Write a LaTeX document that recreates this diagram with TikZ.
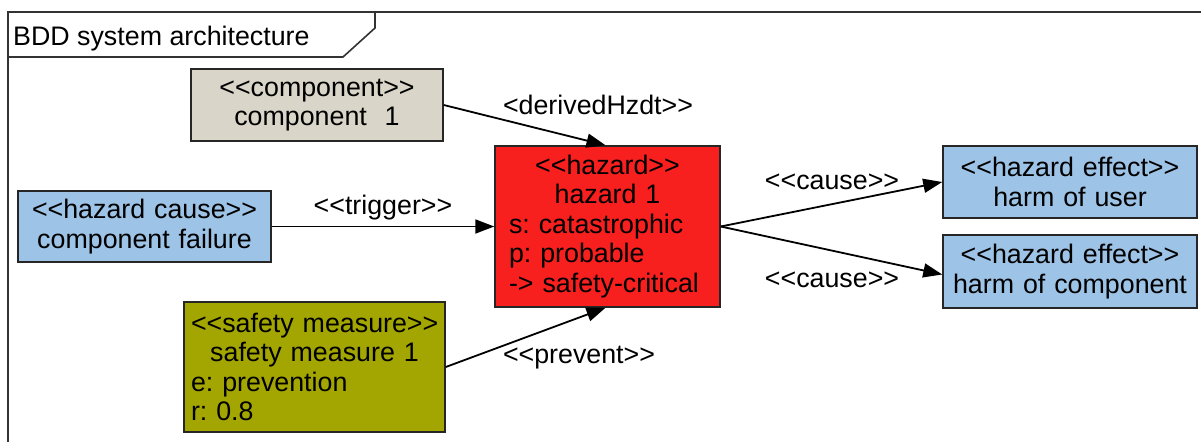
\documentclass[tikz,border=0pt]{standalone}
\usepackage{fontspec}
\setmainfont{Liberation Sans}
\usetikzlibrary{arrows.meta,positioning}
\setlength{\parindent}{0pt}
\frenchspacing
\newcommand\LL{<\kern0pt<}
\newcommand\GG{>\kern0pt>}
\definecolor{compfill}{HTML}{D9D6C9}
\definecolor{bluefill}{HTML}{9DC3E6}
\definecolor{redfill}{HTML}{F81F1F}
\definecolor{olivefill}{HTML}{A3A600}
\definecolor{framegray}{HTML}{333333}
\tikzset{
  txt/.style={font=\fontsize{26.8}{29.5}\selectfont},
  umlbox/.style={txt, draw=black!85, line width=1.5pt, rectangle, inner xsep=9pt, inner ysep=0pt},
  lbl/.style={txt, inner sep=0pt},
  rel/.style={line width=1.8pt, -{Triangle[length=19pt,width=14pt]}},
}
\begin{document}
\begin{tikzpicture}[x=1pt,y=-1pt]
\useasboundingbox (0,0) rectangle (1201,442);
% frame
\draw[framegray, line width=2pt] (8,442) -- (8,12) -- (1201,12);
\draw[framegray, line width=1.6pt] (8,57) -- (343,57) -- (375,28) -- (375,12);
\node[txt, inner sep=0pt, anchor=base west] (title) at (13,45) {BDD system architecture};
% boxes
\node[umlbox, fill=compfill, text width=234pt, align=center, minimum height=72pt] (comp) at (317,105) {\LL component\GG\\component~~1};
\node[umlbox, fill=bluefill, text width=235pt, align=center, minimum height=71pt] (cause) at (144.5,226.5) {\LL hazard cause\GG\\component failure};
\node[umlbox, fill=redfill, inner xsep=14pt, text width=197pt, minimum height=161pt] (haz) at (607.5,226.5)
  {{\centering \LL hazard\GG\\hazard 1\par}\raggedright s: catastrophic\\p: probable\\-> safety-critical};
\node[umlbox, fill=olivefill, inner xsep=7pt, text width=247pt, minimum height=130pt] (safety) at (314.5,367)
  {\raggedright \mbox{\LL safety measure\GG}\par{\centering safety measure 1\par}e: prevention\\r: 0.8};
\node[umlbox, fill=bluefill, text width=236pt, align=center, minimum height=72pt] (eff1) at (1070,182) {\LL hazard effect\GG\\harm of user};
\node[umlbox, fill=bluefill, text width=236pt, align=center, minimum height=73pt] (eff2) at (1070,271.5) {\LL hazard effect\GG\\harm of component};
% connectors
\draw[rel] (comp.east) -- ([xshift=-2pt]haz.north);
\draw[rel] (cause.east) -- (haz.west);
\draw[rel] (safety.east) -- ([xshift=-2pt]haz.south);
\draw[rel] (haz.east) -- (eff1.west);
\draw[rel] (haz.east) -- ([yshift=-3pt]eff2.west);
% labels
\node[lbl] (l1) at (598,105) {<derivedHzdt\GG};
\node[lbl] (l2) at (383,208) {\LL trigger\GG};
\node[lbl] (l3) at (579,358) {\LL prevent\GG};
\node[lbl] (l4) at (832,182) {\LL cause\GG};
\node[lbl] (l5) at (832,280) {\LL cause\GG};
\end{tikzpicture}
\end{document}
